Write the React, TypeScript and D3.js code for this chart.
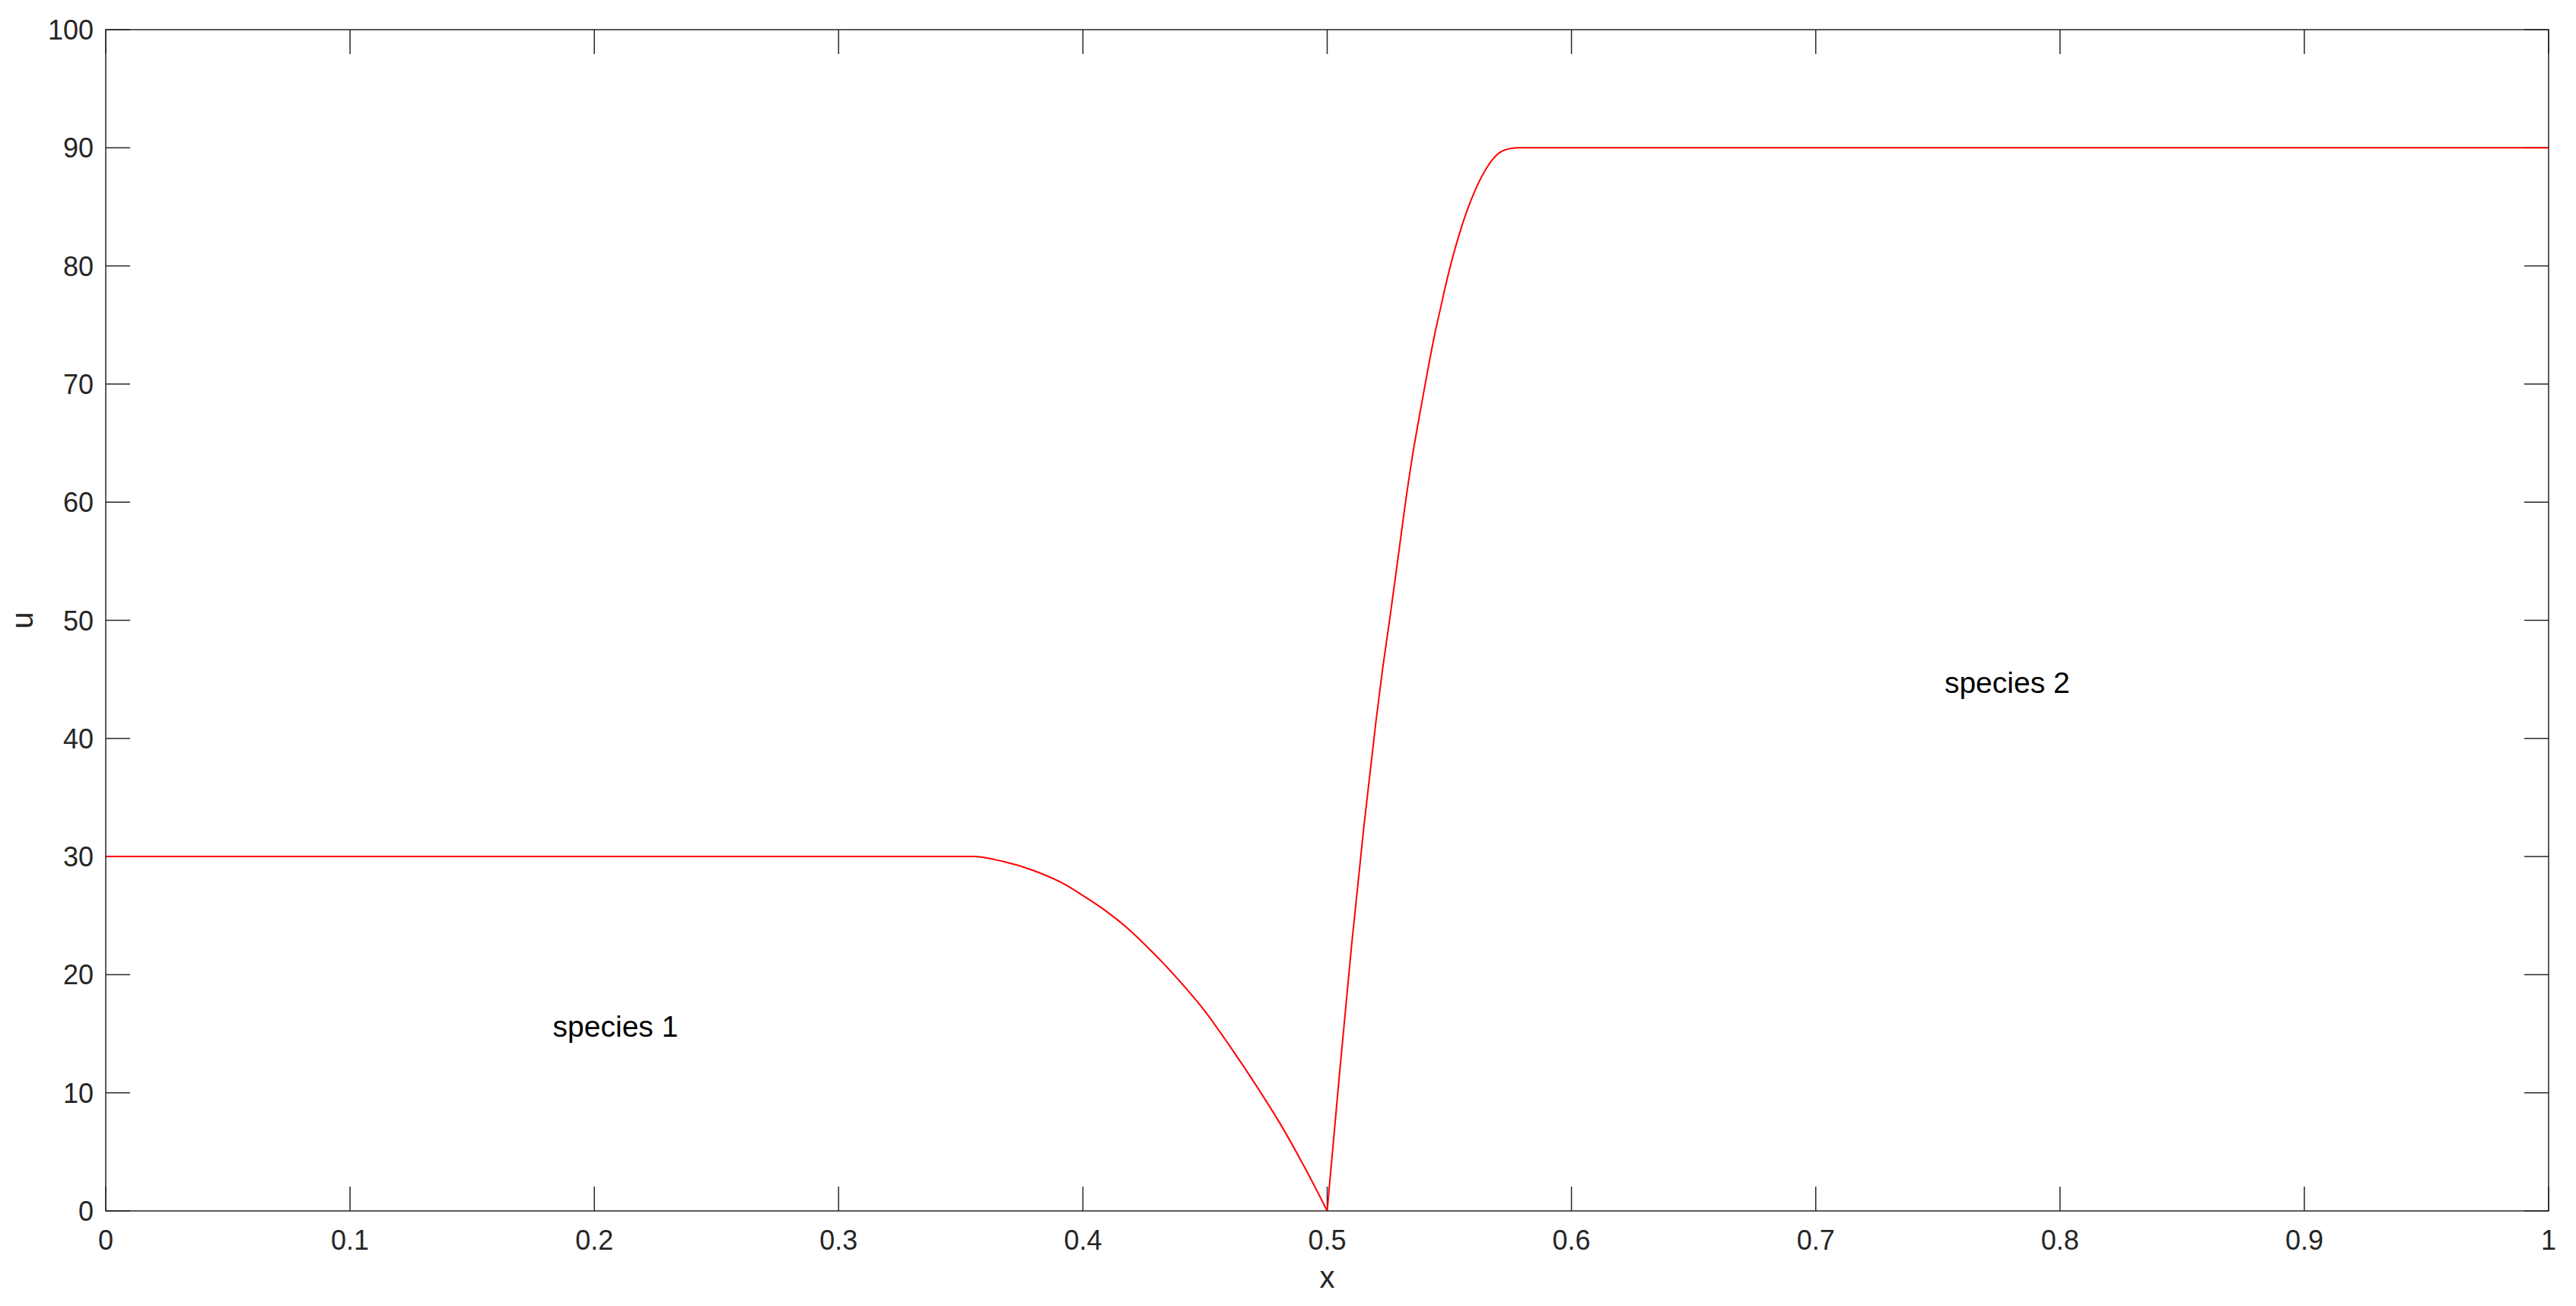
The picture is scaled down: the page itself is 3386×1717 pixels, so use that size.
import React from 'react';
import * as d3 from 'd3';

// values
const xValues = [
  0, 0.355, 0.367, 0.38, 0.393, 0.4, 0.408, 0.419, 0.429, 0.439, 0.45, 0.46,
  0.471, 0.481, 0.491, 0.5, 0.505, 0.51, 0.515, 0.52, 0.5227, 0.5256, 0.5287,
  0.5318, 0.5349, 0.5381, 0.5412, 0.5443, 0.5466, 0.5482, 0.555, 0.561, 0.565,
  0.57, 0.574, 0.578, 1,
];
const uValues = [
  30, 30, 29.6, 28.8, 27.6, 26.7, 25.6, 23.8, 21.8, 19.6, 16.9, 14.0,
  10.6, 7.3, 3.6, 0, 11.5, 22.5, 32.5, 41.5, 45.9, 50.1, 54.8,
  59.6, 63.9, 67.7, 71.2, 74.5, 76.6, 78.1, 83.3, 86.6, 88.2,
  89.5, 89.9, 90, 90,
];
const xTicks = [0, 0.1, 0.2, 0.3, 0.4, 0.5, 0.6, 0.7, 0.8, 0.9, 1];
const yTicks = [0, 10, 20, 30, 40, 50, 60, 70, 80, 90, 100];
const labels = [
  { text: 'species 1', x: 0.183, u: 15.6 },
  { text: 'species 2', x: 0.7527, u: 44.7 },
];

const W = 3386;
const H = 1717;
const margin = { top: 39, right: 36, bottom: 125, left: 139 };
const axisColor = '#262626';
const font = '"Liberation Sans", Arial, Helvetica, sans-serif';

export default function App() {
  const x = d3.scaleLinear().domain([0, 1]).range([margin.left, W - margin.right]);
  const y = d3.scaleLinear().domain([0, 100]).range([H - margin.bottom, margin.top]);
  const tickLen = 32;

  const points: [number, number][] = xValues.map((v, i) => [v, uValues[i]]);
  // split at the minimum so the V stays sharp
  const iMin = uValues.indexOf(d3.min(uValues) as number);
  const segments = [points.slice(0, iMin + 1), points.slice(iMin)];
  const line = d3
    .line<[number, number]>()
    .x((d) => x(d[0]))
    .y((d) => y(d[1]))
    .curve(d3.curveMonotoneX);

  const [x0, x1] = x.range();
  const [y0, y1] = y.range();

  return (
    <svg
      width={W}
      height={H}
      style={{ position: 'absolute', left: 0, top: 0, background: '#fff' }}
      fontFamily={font}
    >
      <rect x={0} y={0} width={W} height={H} fill="#fff" />

      {/* ticks, all four sides, pointing in */}
      <g stroke={axisColor} strokeWidth={1.5}>
        {xTicks.map((t) => (
          <g key={'xt' + t}>
            <line x1={x(t)} x2={x(t)} y1={y0} y2={y0 - tickLen} />
            <line x1={x(t)} x2={x(t)} y1={y1} y2={y1 + tickLen} />
          </g>
        ))}
        {yTicks.map((t) => (
          <g key={'yt' + t}>
            <line x1={x0} x2={x0 + tickLen} y1={y(t)} y2={y(t)} />
            <line x1={x1} x2={x1 - tickLen} y1={y(t)} y2={y(t)} />
          </g>
        ))}
      </g>

      {segments.map((seg, i) => (
        <path key={i} d={line(seg) || ''} fill="none" stroke="#ff0000" strokeWidth={2} />
      ))}

      <rect
        x={x0}
        y={y1}
        width={x1 - x0}
        height={y0 - y1}
        fill="none"
        stroke={axisColor}
        strokeWidth={1.5}
      />

      <g fill={axisColor} fontSize={36}>
        {xTicks.map((t) => (
          <text key={'xl' + t} x={x(t)} y={y0 + 51} textAnchor="middle">
            {String(t)}
          </text>
        ))}
        {yTicks.map((t) => (
          <text key={'yl' + t} x={x0 - 16} y={y(t) + 13} textAnchor="end">
            {String(t)}
          </text>
        ))}
      </g>

      <text x={x(0.5)} y={1693} textAnchor="middle" fontSize={40} fill={axisColor}>
        x
      </text>
      <text
        transform={`translate(43, ${(y0 + y1) / 2}) rotate(-90)`}
        textAnchor="middle"
        fontSize={40}
        fill={axisColor}
      >
        u
      </text>

      {labels.map((l) => (
        <text key={l.text} x={x(l.x)} y={y(l.u) + 13} fontSize={39} fill="#000">
          {l.text}
        </text>
      ))}
    </svg>
  );
}
